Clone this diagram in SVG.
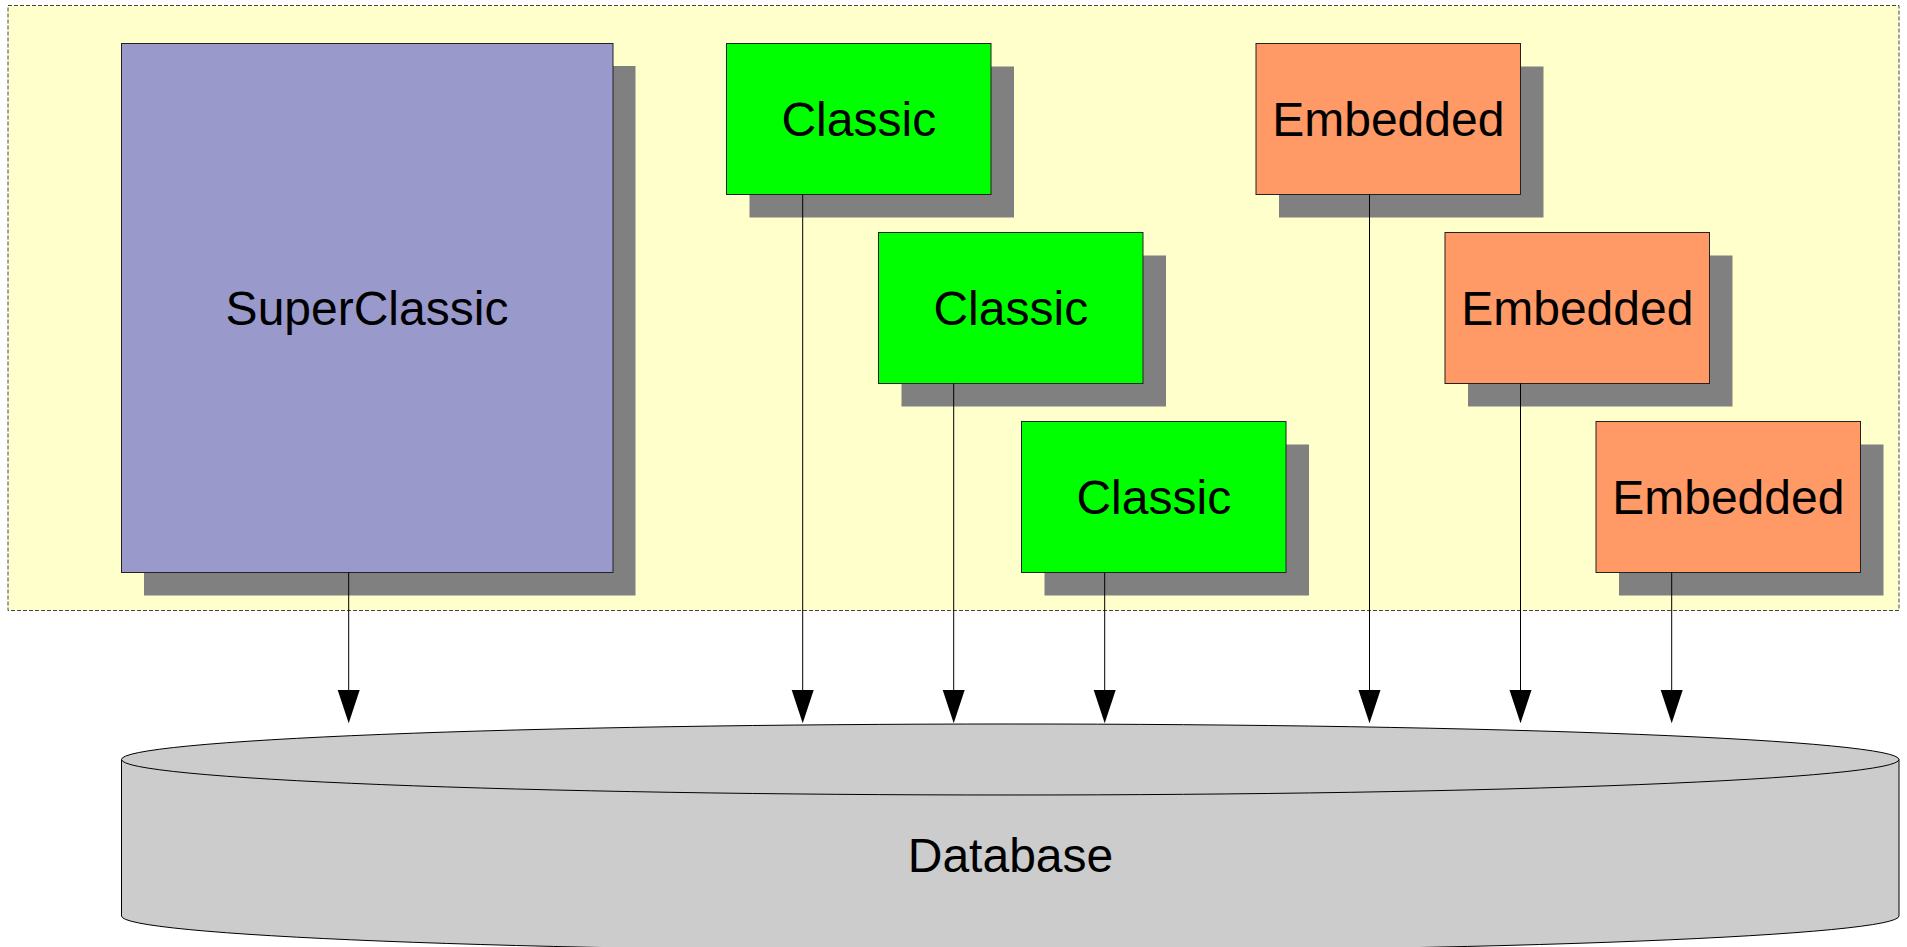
<svg xmlns="http://www.w3.org/2000/svg" width="1907" height="947" viewBox="0 0 1907 947">
<style>
.shadow{fill:#808080;stroke:none}
.node{stroke:#222;stroke-width:1}
.sc{fill:#9999cc}
.cl{fill:#00ff00}
.em{fill:#ff9966}
.lbl{font-family:"Liberation Sans",Arial,sans-serif;font-size:48px;fill:#000;text-anchor:middle}
.conn{stroke:#000;stroke-width:1;fill:none}
.head{fill:#000}
</style>
<rect width="1907" height="947" fill="#ffffff"/>
<g id="container">
<rect x="8" y="5.5" width="1891" height="605" fill="#ffffcc" stroke="#444" stroke-width="1" stroke-dasharray="4 2"/>
</g>
<g id="superclassic">
<rect class="shadow" x="144" y="66" width="491.5" height="529.5"/>
<rect class="node sc" x="121.5" y="43.5" width="491.5" height="529"/>
<text class="lbl" x="367" y="325">SuperClassic</text>
</g>
<g id="classic1">
<rect class="shadow" x="749.5" y="66.5" width="264.5" height="151"/>
<rect class="node cl" x="726.5" y="43.5" width="264.5" height="151"/>
<text class="lbl" x="858.8" y="135.5">Classic</text>
</g>
<g id="classic2">
<rect class="shadow" x="901.5" y="255.5" width="264.5" height="151"/>
<rect class="node cl" x="878.5" y="232.5" width="264.5" height="151"/>
<text class="lbl" x="1010.8" y="324.5">Classic</text>
</g>
<g id="classic3">
<rect class="shadow" x="1044.5" y="444.5" width="264.5" height="151"/>
<rect class="node cl" x="1021.5" y="421.5" width="264.5" height="151"/>
<text class="lbl" x="1153.8" y="513.5">Classic</text>
</g>
<g id="embedded1">
<rect class="shadow" x="1279" y="66.5" width="264.5" height="151"/>
<rect class="node em" x="1256" y="43.5" width="264.5" height="151"/>
<text class="lbl" x="1388.3" y="135.5">Embedded</text>
</g>
<g id="embedded2">
<rect class="shadow" x="1468" y="255.5" width="264.5" height="151"/>
<rect class="node em" x="1445" y="232.5" width="264.5" height="151"/>
<text class="lbl" x="1577.3" y="324.5">Embedded</text>
</g>
<g id="embedded3">
<rect class="shadow" x="1619" y="444.5" width="264.5" height="151"/>
<rect class="node em" x="1596" y="421.5" width="264.5" height="151"/>
<text class="lbl" x="1728.3" y="513.5">Embedded</text>
</g>
<g id="database">
<path d="M121.5,759.5 L121.5,916 A888.75,35.5 0 0 0 1899,916 L1899,759.5 A888.75,35.5 0 0 0 121.5,759.5 Z" fill="#cccccc" stroke="#000" stroke-width="1"/>
<path d="M121.5,759.5 A888.75,35.5 0 0 0 1899,759.5" fill="none" stroke="#000" stroke-width="1"/>
<text class="lbl" x="1010.5" y="871.5">Database</text>
</g>
<g id="connectors">
<path class="conn" d="M348.7,572.5 V690"/>
<polygon class="head" points="337.7,690 359.7,690 348.7,723.3"/>
<path class="conn" d="M802.7,194.5 V690"/>
<polygon class="head" points="791.7,690 813.7,690 802.7,723.3"/>
<path class="conn" d="M953.7,383.5 V690"/>
<polygon class="head" points="942.7,690 964.7,690 953.7,723.3"/>
<path class="conn" d="M1104.7,572.5 V690"/>
<polygon class="head" points="1093.7,690 1115.7,690 1104.7,723.3"/>
<path class="conn" d="M1369.5,194.5 V690"/>
<polygon class="head" points="1358.5,690 1380.5,690 1369.5,723.3"/>
<path class="conn" d="M1520.5,383.5 V690"/>
<polygon class="head" points="1509.5,690 1531.5,690 1520.5,723.3"/>
<path class="conn" d="M1671.7,572.5 V690"/>
<polygon class="head" points="1660.7,690 1682.7,690 1671.7,723.3"/>
</g>
</svg>
